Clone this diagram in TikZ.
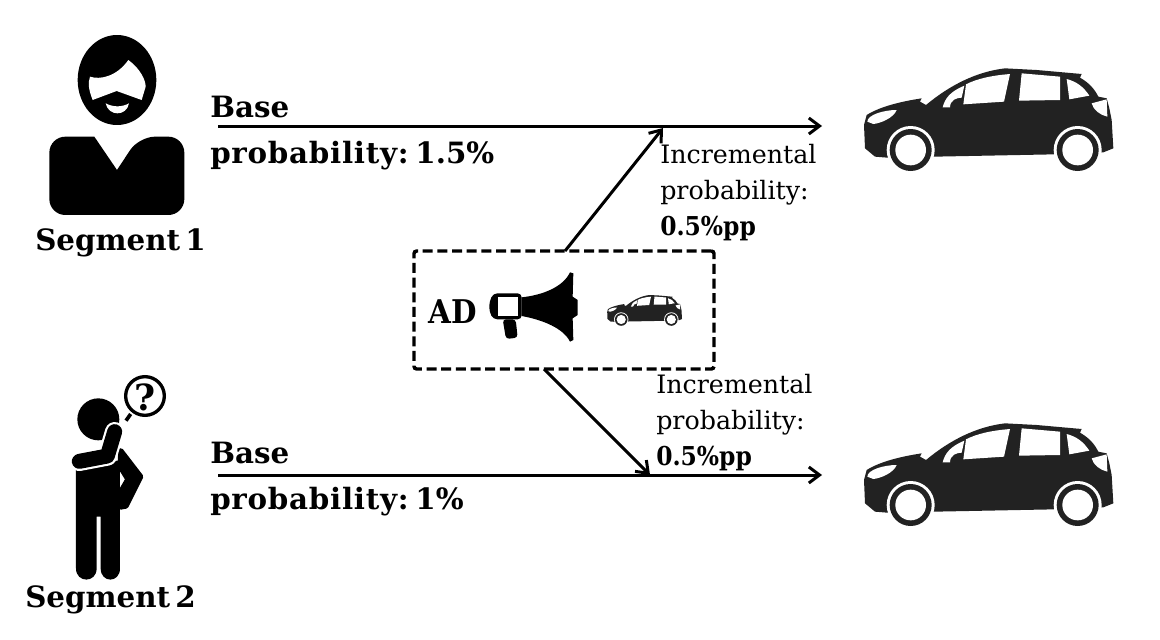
\documentclass[tikz,border=0pt]{standalone}
\usepackage{fontspec}
\setmainfont{DejaVu Serif}
\newfontfamily\condfont{DejaVu Serif Condensed}
\usetikzlibrary{arrows.meta}
\definecolor{carc}{HTML}{222222}
\newcommand{\spaced}[1]{{\addfontfeature{LetterSpace=2.5}#1}}
\tikzset{
  x=0.75pt,y=-0.75pt,
  link/.style={line width=2.25pt,-{Straight Barb[length=8pt,width=12pt,line width=2.25pt]}},
  lab/.style={anchor=base west,inner sep=0pt,font=\fontsize{22}{24}\selectfont\bfseries},
  seglab/.style={anchor=base west,inner sep=0pt,font=\fontsize{22}{24}\selectfont\bfseries},
  inc/.style={anchor=base west,inner sep=0pt,font=\fontsize{19}{22}\selectfont},
  incb/.style={anchor=base west,inner sep=0pt,font=\condfont\fontsize{19.5}{22}\selectfont\bfseries},
  adbox/.style={draw,line width=2.6pt,dash pattern=on 7.5pt off 3.5pt,rounded corners=2pt,minimum width=225pt,minimum height=88.5pt,inner sep=0pt},
  car/.pic={
    \fill[carc] (45,280) -- (42,210) -- (50,180) .. controls (90,155) and (150,140) .. (215,130) -- (210,140) -- (228,150)
      .. controls (300,90) and (380,50) .. (465,40) -- (560,45) -- (695,57) -- (690,68)
      .. controls (720,85) and (735,105) .. (745,125) -- (770,130) -- (778,160) -- (785,195) -- (790,280) -- (760,292)
      -- (615,298) -- (252,305) -- (112,308) -- (75,305) -- cycle;
    \fill[white] (182,285) circle[radius=72] (683,285) circle[radius=72];
    \fill[carc] (182,285) circle[radius=63] (683,285) circle[radius=63];
    \fill[white] (182,285) circle[radius=46] (683,285) circle[radius=46];
    \fill[white] (340,148) -- (462,140) -- (480,57) .. controls (420,62) and (380,72) .. (348,88) -- cycle;
    \fill[white] (278,157) -- (300,157) .. controls (300,135) and (320,128) .. (335,128) -- (343,92) .. controls (300,110) and (285,130) .. (278,157) -- cycle;
    \fill[white] (507,137) -- (630,135) -- (630,65) -- (515,55) -- cycle;
    \fill[white] (658,133) -- (718,122) .. controls (700,95) and (680,80) .. (650,72) -- cycle;
    \fill[white] (52,200) .. controls (52,180) and (100,165) .. (140,165) .. controls (130,190) and (90,205) .. (70,207) -- cycle;
    \fill[white] (725,145) -- (770,133) -- (772,185) .. controls (750,180) and (730,165) .. (725,145) -- cycle;
  }
}
\begin{document}
\begin{tikzpicture}
\useasboundingbox (0,0) rectangle (1160,639);
\fill[white] (0,0) rectangle (1160,639);

% Person 1
\begin{scope}[shift={(0,20)},scale=1/3]
  \fill (351,180) ellipse [x radius=118,y radius=135];
  \fill[white] (278,240) .. controls (268,215) and (262,190) .. (270,170) .. controls (300,180) and (350,170) .. (385,120) .. controls (420,145) and (437,180) .. (437,200) -- (425,240) -- (350,213) -- cycle;
  \fill[white] (317,250) .. controls (340,262) and (365,262) .. (387,250) .. controls (380,290) and (325,290) .. (317,250) -- cycle;
  \fill[rounded corners=12pt] (283,350) -- (148,350) -- (148,585) -- (553,585) -- (553,350) -- (417,350) [sharp corners] -- (351,450) -- cycle;
\end{scope}

% Person 2
\begin{scope}[shift={(0,360)},scale=1/3]
  \fill (295,178) circle[radius=63];
  \draw[line width=2.5pt] (435,108) circle[radius=58];
  \draw[line width=2.75pt] (378,182) -- (392,162);
  \filldraw[line width=4pt,line join=round] (362,272) -- (422,350) -- (378,438) -- (362,441) -- (362,396) -- (384,358) -- (362,322) -- cycle;
  \fill (228,330) -- (360,300) -- (360,625) .. controls (360,670) and (302,670) .. (302,625) -- (302,470) -- (290,470) -- (290,625) .. controls (290,670) and (228,670) .. (228,625) -- cycle;
  \draw[white,line width=14.5pt,line join=round,line cap=round] (238,304) -- (322,288) -- (344,215);
  \draw[line width=11.25pt,line join=round,line cap=round] (238,304) -- (322,288) -- (344,215);
\end{scope}
\node[anchor=center,inner sep=0pt,font=\fontsize{27}{28}\selectfont\bfseries] (qmark) at (145,397) {?};

% Cars
\pic[shift={(850,55)},scale=1/3] {car};
\pic[shift={(850,410)},scale=1/3] {car};
\pic[shift={(603,291)},scale=0.1] {car};

% Ad box
\node[adbox] (ad) at (564,310) {};
\node[anchor=base west,inner sep=0pt,font=\condfont\fontsize{24.5}{26}\selectfont\bfseries] (adtext) at (428,323) {AD};
\begin{scope}[shift={(400,240)},scale=1/3]
  \fill[rounded corners=3pt] (268,185) -- (280,160) -- (365,160) -- (365,238) -- (280,238) -- (268,215) -- cycle;
  \fill[white] (295,172) rectangle (355,228);
  \fill (365,172) .. controls (430,165) and (490,140) .. (510,97) -- (520,100) -- (518,170) -- (533,180) -- (533,225) -- (518,235) -- (520,300) -- (510,305) .. controls (490,265) and (430,240) .. (365,228) -- cycle;
  \fill[rounded corners=2.5pt] (308,238) -- (318,297) -- (353,293) -- (347,238) -- cycle;
\end{scope}

% Texts
\node[lab] (b1) at (210,117) {Base};
\node[lab] (p1) at (210,163) {\spaced{probability:}\hspace{5pt}1.5\%};
\node[lab] (b2) at (210,463) {Base};
\node[lab] (p2) at (210,509) {\spaced{probability:}\hspace{5pt}1\%};
\node[seglab] (s1) at (35,250) {Segment\hspace{4pt}1};
\node[seglab] (s2) at (25,607) {Segment\hspace{4pt}2};
\node[inc] (i1) at (660,163) {Incremental};
\node[inc] (i2) at (660,199) {probability:};
\node[incb] (i3) at (660,235) {0.5\%pp};
\node[inc] (j1) at (656,393) {Incremental};
\node[inc] (j2) at (656,429) {probability:};
\node[incb] (j3) at (656,465) {0.5\%pp};

% Connectors
\coordinate (a1s) at (218,126);
\coordinate (a1e) at (822,126);
\coordinate (a2s) at (218,475);
\coordinate (a2e) at (822,475);
\coordinate (up) at (663,128);
\coordinate (dn) at (650,475);
\coordinate (adt) at (565,251);
\coordinate (adb) at (544,369);
\draw[link] (a1s) -- (a1e);
\draw[link] (a2s) -- (a2e);
\draw[link] (adt) -- (up);
\draw[link] (adb) -- (dn);
\end{tikzpicture}
\end{document}
